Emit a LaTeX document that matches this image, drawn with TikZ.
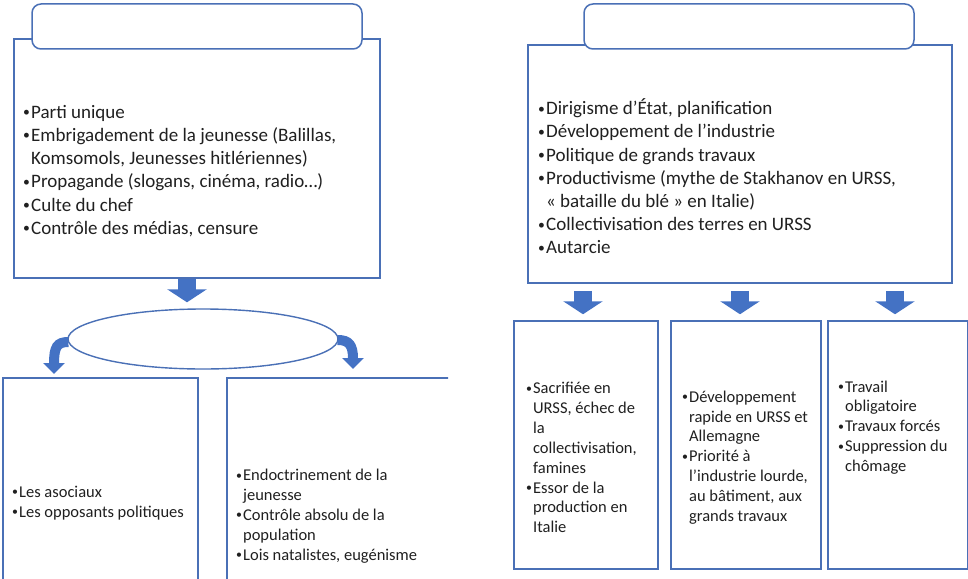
\documentclass[tikz,border=0pt]{standalone}
\usepackage{fontspec}
\setmainfont{Carlito}
\usetikzlibrary{shapes.geometric,arrows.meta,calc}
\definecolor{boxblue}{RGB}{74,112,182}
\definecolor{arrblue}{RGB}{68,114,196}
\definecolor{txtgray}{RGB}{32,32,32}
\newcommand\bul{\makebox[0.42em][l]{\raisebox{0.09em}{\scalebox{0.72}{•}}}}
\newcommand\nobul{\phantom{\bul}}
\begin{document}
\begin{tikzpicture}[x=1pt,y=-1pt,
  box/.style={rectangle,draw=boxblue,line width=1.5pt,fill=white,inner sep=0},
  titlebox/.style={box,rounded corners=9pt},
  oval/.style={ellipse,draw=boxblue,line width=1.4pt,fill=white,inner sep=0},
  bigtxt/.style={anchor=west,inner sep=0,align=left,text=txtgray,font=\fontsize{19}{23.2}\selectfont},
  smalltxt/.style={anchor=west,inner sep=0,align=left,text=txtgray,font=\fontsize{16.5}{19.9}\selectfont},
  blockarr/.style={draw=arrblue,line width=18pt,-{Triangle[width=39pt,length=13pt]}},
  bentarr/.style={draw=arrblue,line width=10pt,-{Triangle[width=21pt,length=11pt]}}]
\useasboundingbox (0,0) rectangle (968,578);
\clip (0,0) rectangle (968,578);
\node[box,minimum width=366,minimum height=239] (lbig) at (197,158.5) {};
\node[titlebox,minimum width=330,minimum height=45] (ltitle) at (197,26.5) {};
\node[box,minimum width=424,minimum height=238] (rbig) at (740,164) {};
\node[titlebox,minimum width=330,minimum height=45] (rtitle) at (749,26.5) {};
\node[oval,minimum width=270,minimum height=60] (etat) at (203,339) {};
\node[box,minimum width=195,minimum height=244] (lb1) at (100.5,500) {};
\begin{scope}
\clip (0,0) rectangle (448,578);
\node[box,minimum width=233,minimum height=244] (lb2) at (343.5,500) {};
\end{scope}
\node[box,minimum width=144,minimum height=248] (rb1) at (586,445) {};
\node[box,minimum width=150,minimum height=248] (rb2) at (746,445) {};
\node[box,minimum width=140,minimum height=248] (rb3) at (898,445) {};
\draw[blockarr] ($(lbig.south)+(-10,0)$) -- ($(etat.north)+(-16,-6)$);
\foreach \b/\dx in {rb1/-3,rb2/-6,rb3/-3}
  \draw[blockarr] ($(rbig.south -| \b.north)+(\dx,7)$) -- ($(\b.north)+(\dx,-6)$);
\draw[bentarr] ($(etat.west)+(1,3)$) .. controls (57,342) and (54,347) .. (54,374);
\draw[bentarr] ($(etat.east)+(-1,1)$) .. controls (349,340) and (353,345) .. (353,369);
\node[bigtxt] (ltxt) at (23,171) {\bul Parti unique\\\bul Embrigadement de la jeunesse (Balillas,\\\nobul Komsomols, Jeunesses hitlériennes)\\\bul Propagande (slogans, cinéma, radio…)\\\bul Culte du chef\\\bul Contrôle des médias, censure};
\node[bigtxt] (rtxt) at (538,176.5) {\bul Dirigisme d’État, planification\\\bul Développement de l’industrie\\\bul Politique de grands travaux\\\bul Productivisme (mythe de Stakhanov en URSS,\\\nobul « bataille du blé » en Italie)\\\bul Collectivisation des terres en URSS\\\bul Autarcie};
\node[smalltxt] (lb1txt) at (12,503) {\bul Les asociaux\\\bul Les opposants politiques};
\node[smalltxt] (lb2txt) at (236,516) {\bul Endoctrinement de la\\\nobul jeunesse\\\bul Contrôle absolu de la\\\nobul population\\\bul Lois natalistes, eugénisme};
\node[smalltxt] (rb1txt) at (526,457.5) {\bul Sacrifiée en\\\nobul URSS, échec de\\\nobul la\\\nobul collectivisation,\\\nobul famines\\\bul Essor de la\\\nobul production en\\\nobul Italie};
\node[smalltxt] (rb2txt) at (682,457.5) {\bul Développement\\\nobul rapide en URSS et\\\nobul Allemagne\\\bul Priorité à\\\nobul l’industrie lourde,\\\nobul au bâtiment, aux\\\nobul grands travaux};
\node[smalltxt] (rb3txt) at (838,427.5) {\bul Travail\\\nobul obligatoire\\\bul Travaux forcés\\\bul Suppression du\\\nobul chômage};
\end{tikzpicture}
\end{document}
